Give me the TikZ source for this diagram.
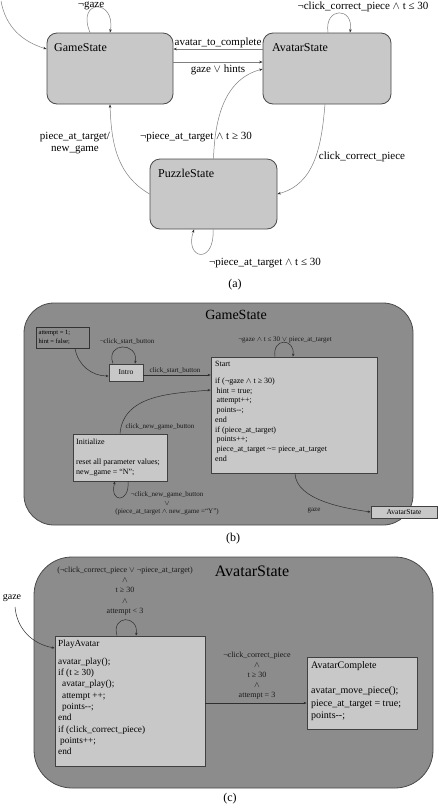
\documentclass[tikz,border=0pt]{standalone}
\usepackage{fontspec}
\setmainfont{Liberation Serif}
\usetikzlibrary{arrows.meta}
\definecolor{boxfill}{HTML}{C8C8C8}
\definecolor{bigfill}{HTML}{8C8C8C}
\definecolor{edgec}{HTML}{4A4A4A}
\definecolor{arra}{HTML}{7F7F7F}
\definecolor{arrb}{HTML}{2E2E2E}
\newcommand{\AND}{\ensuremath{\wedge}}
\newcommand{\OR}{\ensuremath{\vee}}
\begin{document}
\begin{tikzpicture}[x=1pt, y=1pt,
  abox/.style={draw=edgec, fill=boxfill, rounded corners=10pt, line width=0.8pt, inner sep=0pt},
  bigbox/.style={draw=edgec, fill=bigfill, line width=0.8pt, inner sep=0pt},
  ibox/.style={draw=black!75, fill=boxfill, line width=0.7pt, inner sep=0pt},
  aarr/.style={draw=arra, line width=0.5pt, -{Stealth[length=3.5pt,width=2.6pt,color=black!80]}},
  barr/.style={draw=arrb, line width=0.5pt, -{Stealth[length=3pt,width=2.4pt]}},
  txt/.style={inner sep=0pt, align=left},
  ctr/.style={inner sep=0pt, align=center},
  stA/.style={inner sep=0pt, font=\fontsize{12}{14}\selectfont},
  lbA/.style={ctr, font=\fontsize{11}{12}\selectfont},
  lbB/.style={ctr, font=\fontsize{7}{8.5}\selectfont, text=black!90},
  lbC/.style={ctr, font=\fontsize{8}{10.1}\selectfont, text=black!90},
]
\fill[white] (0,0) rectangle (439,-807);
\useasboundingbox (0,0) rectangle (439,-807);
% ---------------- (a) ----------------
\node[abox, minimum width=126pt, minimum height=71pt] (gs) at (110,-68.5) {};
\node[abox, minimum width=128pt, minimum height=71pt] (as) at (327,-68.5) {};
\node[abox, minimum width=127pt, minimum height=70pt] (ps) at (213.5,-194) {};
\node[stA, anchor=west] (gsT) at (54,-48) {GameState};
\node[stA, anchor=west] (asT) at (272,-48) {AvatarState};
\node[stA, anchor=west] (psT) at (158,-173) {PuzzleState};
\coordinate (a0) at (1,-1);
\draw[aarr] (a0) to[out=-80, in=163] ([yshift=19.5pt]gs.west);
\draw[aarr] ([xshift=-20pt]gs.north) .. controls +(-14,34) and +(6,34) .. (gs.north);
\node[lbA] (la1) at (91,-5.5) {¬gaze};
\draw[aarr] ([yshift=19.5pt]as.west) -- ([yshift=19.5pt]gs.east);
\node[lbA] (la2) at (218,-43) {avatar\_to\_complete};
\draw[aarr] ([yshift=6.5pt]gs.east) -- ([yshift=6.5pt]as.west);
\node[lbA] (la3) at (218,-69.5) {gaze \OR\ hints};
\draw[aarr] ([xshift=1pt]as.north) .. controls +(-4,26) and +(4,26) .. ([xshift=23pt]as.north);
\node[lbA] (la4) at (363,-7) {¬click\_correct\_piece \AND\ t ≤ 30};
\draw[aarr] (ps.north) to[out=88, in=195] ([yshift=-0.5pt]as.west);
\node[lbA] (la5) at (196,-137) {¬piece\_at\_target \AND\ t ≥ 30};
\draw[aarr] ([xshift=-2pt]as.south) to[out=-95, in=15] (ps.east);
\node[lbA] (la6) at (362,-157) {click\_correct\_piece};
\draw[aarr] (ps.west) to[out=150, in=-88] (gs.south);
\node[lbA] (la7) at (75,-143) {piece\_at\_target/\\new\_game};
\draw[aarr] ([xshift=-0.5pt]ps.south) .. controls +(2,-36) and +(-10,-30) .. ([xshift=-19.5pt]ps.south);
\node[lbA] (la8) at (265,-263) {¬piece\_at\_target \AND\ t ≤ 30};
\node[stA] (capa) at (235,-285) {(a)};
% ---------------- (b) ----------------
\node[bigbox, rounded corners=30pt, minimum width=389pt, minimum height=222pt] (gsB) at (218.5,-414) {};
\node[inner sep=0pt, font=\fontsize{14}{16}\selectfont] (gsBT) at (236,-315) {GameState};
\node[draw=black!80, fill=bigfill, line width=0.8pt, inner sep=0pt, minimum width=53pt, minimum height=21pt] (initB) at (62.5,-337.5) {};
\node[txt, anchor=north west, font=\fontsize{6.5}{8.7}\selectfont] (initBT) at (38.5,-330.5) {attempt = 1;\\hint = false;};
\node[ibox, minimum width=34pt, minimum height=17pt, font=\fontsize{7.5}{9}\selectfont] (intro) at (126,-372.5) {Intro};
\node[ibox, minimum width=166pt, minimum height=116pt] (start) at (294,-415) {};
\node[txt, anchor=north west, font=\fontsize{8}{9.7}\selectfont] (startT) at (215,-361) {Start\\[7.3pt]if (¬gaze \AND\ t ≥ 30)\\\hspace{1.5pt}hint = true;\\\hspace{1.5pt}attempt++;\\\hspace{1.5pt}points{-}{-};\\end\\if (piece\_at\_target)\\\hspace{1.5pt}points++;\\\hspace{1.5pt}piece\_at\_target \textasciitilde= piece\_at\_target\\end};
\node[ibox, minimum width=94pt, minimum height=47pt] (initz) at (120,-457.5) {};
\node[txt, anchor=north west, font=\fontsize{8}{10}\selectfont] (initzT) at (76,-439) {Initialize\\[10pt]reset all parameter values;\\new\_game = “N”;};
\draw[barr] ([xshift=12.5pt]initB.south) to[out=-80, in=180] ([yshift=-3.5pt]intro.west);
\draw[barr] ([xshift=-13pt]intro.north) .. controls +(-8,22) and +(4,22) .. ([xshift=9pt]intro.north);
\node[lbB] (lb1) at (127,-342) {¬click\_start\_button};
\draw[barr] ([yshift=-2.5pt]intro.east) -- ([yshift=40pt]start.west);
\node[lbB] (lb2) at (175,-371) {click\_start\_button};
\draw[barr] ([xshift=-19pt]start.north) .. controls +(-3,19) and +(2,19) .. ([xshift=-1pt]start.north);
\node[lbB] (lb3) at (285,-340) {¬gaze \AND\ t ≤ 30 \OR\ piece\_at\_target};
\draw[barr] (initz.north) to[out=85, in=185] ([yshift=25pt]start.west);
\node[lbB] (lb4) at (160,-427) {click\_new\_game\_button};
\draw[barr] ([xshift=8pt]initz.south) .. controls +(2,-22) and +(-6,-22) .. ([xshift=-5pt]initz.south);
\node[lbB] (lb5) at (167,-503.5) {¬click\_new\_game\_button\\\OR\\(piece\_at\_target \AND\ new\_game =“Y”)};
\node[ibox, minimum width=66pt, minimum height=12pt, font=\fontsize{7.5}{9}\selectfont] (avS) at (404,-512) {AvatarState};
\draw[barr] ([xshift=1pt]start.south) to[out=-88, in=172, looseness=0.8] (avS.west);
\node[lbB] (lb6) at (314,-510) {gaze};
\node[stA] (capb) at (233,-539) {(b)};
% ---------------- (c) ----------------
\node[bigbox, rounded corners=38pt, minimum width=399pt, minimum height=231pt] (asB) at (233.5,-672.5) {};
\node[inner sep=0pt, font=\fontsize{16}{18}\selectfont] (asBT) at (252,-571) {AvatarState};
\node[lbC] (lc1) at (125,-591) {(¬click\_correct\_piece \OR\ ¬piece\_at\_target)\\\AND\\t ≥ 30\\\AND\\attempt < 3};
\node[ibox, minimum width=150pt, minimum height=130pt] (pa) at (130,-701) {};
\node[txt, anchor=north west, font=\fontsize{9.3}{11.3}\selectfont] (paT) at (58,-639.6) {PlayAvatar\\[6.7pt]avatar\_play();\\if (t ≥ 30)\\\hspace{4pt}avatar\_play();\\\hspace{4pt}attempt ++;\\\hspace{4pt}points{-}{-};\\end\\if (click\_correct\_piece)\\\hspace{2pt}points++;\\end};
\draw[barr] ([xshift=-13pt]pa.north) .. controls +(-6,21) and +(3,21) .. ([xshift=6pt]pa.north);
\node[ibox, minimum width=110pt, minimum height=72pt] (ac) at (362,-693) {};
\node[txt, anchor=north west, font=\fontsize{10}{12.5}\selectfont] (acT) at (311,-661.4) {AvatarComplete\\[12.5pt]avatar\_move\_piece();\\piece\_at\_target = true;\\points{-}{-};};
\node[inner sep=0pt, font=\fontsize{10}{12}\selectfont] (lc2) at (12,-598) {gaze};
\coordinate (gz0) at (15,-607);
\draw[barr] (gz0) to[out=-85, in=170] ([yshift=53pt]pa.west);
\draw[barr] ([yshift=-2pt]pa.east) -- ([yshift=-10pt]ac.west);
\node[lbC] (lc3) at (257,-675.5) {¬click\_correct\_piece\\\AND\\t ≥ 30\\\AND\\attempt = 3};
\node[stA] (capc) at (230,-799) {(c)};
\end{tikzpicture}
\end{document}
